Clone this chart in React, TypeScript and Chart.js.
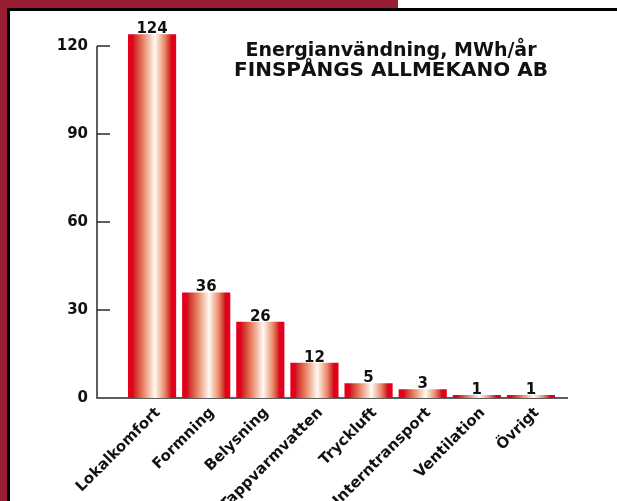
import React, { useEffect, useRef } from "react";
import { Chart, registerables } from "chart.js";

Chart.register(...registerables);

const categories = [
  "Lokalkomfort",
  "Formning",
  "Belysning",
  "Tappvarmvatten",
  "Tryckluft",
  "Interntransport",
  "Ventilation",
  "Övrigt",
];
const values = [124, 36, 26, 12, 5, 3, 1, 1];
const yTicks = [0, 30, 60, 90, 120];
const titleLines = ["Energianvändning, MWh/år", "FINSPÅNGS ALLMEKANO AB"];

const FONT = "'DejaVu Sans', sans-serif";
const INK = "#111111";
const FRAME_RED = "#9a1e33";
const BAR_PCT = 0.89;

// Horizontal "cylinder" shading for every bar
function barFill(context: any) {
  const chart = context.chart;
  const area = chart.chartArea;
  const xs = chart.scales?.x;
  if (!area || !xs) return "#e3001b";
  const cx = xs.getPixelForValue(context.dataIndex);
  const w = (area.width / categories.length) * BAR_PCT;
  const g = chart.ctx.createLinearGradient(cx - w / 2, 0, cx + w / 2, 0);
  g.addColorStop(0, "#e3001b");
  g.addColorStop(0.1, "#e3001b");
  g.addColorStop(0.13, "#d0242a");
  g.addColorStop(0.3, "#e67a5a");
  g.addColorStop(0.56, "#fffaf3");
  g.addColorStop(0.76, "#ea8a6a");
  g.addColorStop(0.87, "#d02e2b");
  g.addColorStop(0.9, "#e3001b");
  g.addColorStop(1, "#e3001b");
  return g;
}

const axisPlugin = {
  id: "axisLines",
  beforeDatasetsDraw(chart: any) {
    const { ctx, chartArea, scales } = chart;
    const y = scales.y;
    const axisX = chartArea.left - 28;
    const y0 = y.getPixelForValue(0);
    ctx.save();
    ctx.strokeStyle = "#2a2a2a";
    ctx.lineWidth = 1.5;
    ctx.beginPath();
    ctx.moveTo(axisX, y.getPixelForValue(yTicks[yTicks.length - 1]));
    ctx.lineTo(axisX, y0);
    ctx.lineTo(chartArea.right + 10, y0);
    yTicks.forEach((v) => {
      const py = y.getPixelForValue(v);
      ctx.moveTo(axisX, py);
      ctx.lineTo(axisX + 13, py);
    });
    ctx.stroke();
    ctx.restore();
  },
  afterDatasetsDraw(chart: any) {
    const { ctx, chartArea } = chart;
    const meta = chart.getDatasetMeta(0);
    ctx.save();
    ctx.fillStyle = INK;
    ctx.font = `bold 15px ${FONT}`;
    ctx.textAlign = "center";
    ctx.textBaseline = "alphabetic";
    meta.data.forEach((bar: any, i: number) => {
      ctx.fillText(String(values[i]), bar.x, bar.y - 1);
    });
    // title block inside the plot
    const cx = chartArea.left + 266;
    ctx.font = `bold 19px ${FONT}`;
    ctx.fillText(titleLines[0], cx, chartArea.top + 10);
    ctx.font = `bold 20px ${FONT}`;
    ctx.fillText(titleLines[1], cx, chartArea.top + 30);
    ctx.restore();
  },
};

export default function App() {
  const canvasRef = useRef<HTMLCanvasElement | null>(null);

  useEffect(() => {
    document.body.style.margin = "0";
    const canvas = canvasRef.current;
    if (!canvas) return;
    const chart = new Chart(canvas, {
      type: "bar",
      data: {
        labels: categories,
        datasets: [
          {
            data: values,
            backgroundColor: barFill,
            borderWidth: 0,
            categoryPercentage: 1,
            barPercentage: BAR_PCT,
            clip: false as any,
          },
        ],
      },
      options: {
        animation: false,
        responsive: false,
        devicePixelRatio: 1,
        layout: { padding: { top: 45, right: 59, left: 0, bottom: 0 } },
        plugins: {
          legend: { display: false },
          tooltip: { enabled: false },
          title: { display: false },
        },
        scales: {
          x: {
            grid: { display: false, drawTicks: false },
            border: { display: false },
            ticks: {
              autoSkip: false,
              minRotation: 45,
              maxRotation: 45,
              padding: 6,
              labelOffset: 6,
              color: INK,
              font: { family: FONT, weight: "bold", size: 15 },
            },
            afterFit: (scale: any) => {
              scale.height = 103;
            },
          },
          y: {
            min: 0,
            max: 120,
            grid: { display: false, drawTicks: false },
            border: { display: false },
            ticks: {
              stepSize: 30,
              padding: 37,
              color: INK,
              font: { family: FONT, weight: "bold", size: 15 },
            },
            afterFit: (scale: any) => {
              scale.width = 125;
            },
          },
        },
      },
      plugins: [axisPlugin],
    });
    return () => chart.destroy();
  }, []);

  return (
    <div
      style={{
        position: "relative",
        width: 617,
        height: 501,
        background: "#ffffff",
        overflow: "hidden",
      }}
    >
      <div style={{ position: "absolute", left: 0, top: 0, width: 7, height: 501, background: FRAME_RED }} />
      <div style={{ position: "absolute", left: 0, top: 0, width: 398, height: 8, background: FRAME_RED }} />
      <div style={{ position: "absolute", left: 7, top: 8, width: 610, height: 2.5, background: "#000" }} />
      <div style={{ position: "absolute", left: 7, top: 8, width: 3, height: 493, background: "#000" }} />
      <canvas
        ref={canvasRef}
        width={617}
        height={501}
        style={{ position: "absolute", left: 0, top: 0, width: 617, height: 501 }}
      />
    </div>
  );
}
